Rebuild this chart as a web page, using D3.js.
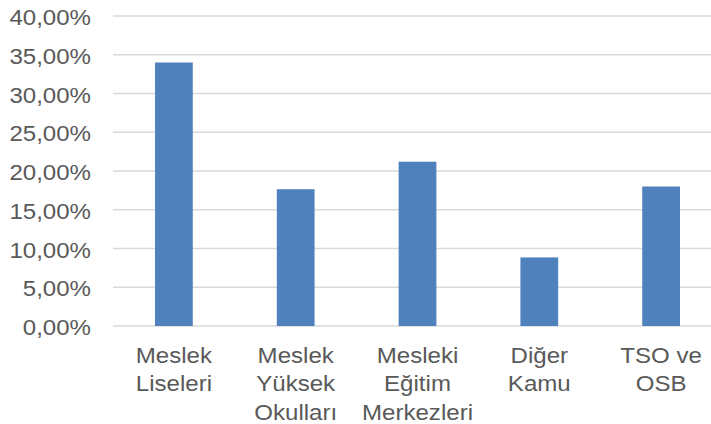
<!DOCTYPE html>
<html>
<head>
<meta charset="utf-8">
<script src="https://cdn.jsdelivr.net/npm/d3@7"></script>
<style>
	html, body { margin: 0; padding: 0; background: #fff; }
	svg { display: block; font-family: 'Liberation Sans', Arial, sans-serif; }
</style>
</head>
<body>
<div class="bar-chart"></div>
<script>
// chart data
const categories = [
	['Meslek', 'Liseleri'],
	['Meslek', 'Yüksek', 'Okulları'],
	['Mesleki', 'Eğitim', 'Merkezleri'],
	['Diğer', 'Kamu'],
	['TSO ve', 'OSB']
];
const values = [34.0, 17.65, 21.2, 8.85, 18.0];
const tickValues = [0, 5, 10, 15, 20, 25, 30, 35, 40];

const width = 711;
const height = 424;
const margin = { top: 16, left: 113, bottom: 98 };
const textColor = '#595959';
// the picture is a bit wider than tall, so glyphs are stretched sideways
const stretch = 1.12;

const svg = d3
	.select('.bar-chart')
	.append('svg')
	.attr('width', width)
	.attr('height', height);

const innerHeight = height - margin.top - margin.bottom;

const x = d3
	.scaleBand()
	.domain(categories.map((d, i) => i))
	.range([margin.left, margin.left + 609])
	.paddingInner(0.69)
	.paddingOuter(0.345);

const y = d3
	.scaleLinear()
	.domain([0, 40])
	.range([margin.top + innerHeight, margin.top]);

const fmt = v => v.toFixed(2).replace('.', ',') + '%';

// gridlines
svg.append('g')
	.selectAll('line')
	.data(tickValues)
	.enter()
	.append('line')
	.attr('x1', margin.left)
	.attr('x2', width)
	.attr('y1', d => y(d))
	.attr('y2', d => y(d))
	.attr('stroke', '#d9d9d9')
	.attr('stroke-width', 1.3);

// y axis labels
const yAxis = svg
	.append('g')
	.attr('transform', 'translate(91,0) scale(' + stretch + ',1)')
	.call(d3.axisLeft(y).tickValues(tickValues).tickFormat(fmt).tickSize(0).tickPadding(0));
yAxis.select('.domain').remove();
yAxis.selectAll('text')
	.attr('fill', textColor)
	.attr('font-size', 21.5)
	.attr('font-family', "'Liberation Sans', Arial, sans-serif")
	.attr('dy', '0.4em');

// bars
svg.append('g')
	.selectAll('rect')
	.data(values)
	.enter()
	.append('rect')
	.attr('x', (d, i) => x(i))
	.attr('y', d => y(d))
	.attr('width', x.bandwidth())
	.attr('height', d => y(0) - y(d))
	.attr('fill', '#4f81bd');

// category labels
const labels = svg
	.append('g')
	.selectAll('g')
	.data(categories)
	.enter()
	.append('g')
	.attr('transform', (d, i) =>
		'translate(' + (x(i) + x.bandwidth() / 2) + ',363) scale(' + stretch + ',1)'
	)
	.append('text')
	.attr('text-anchor', 'middle')
	.attr('fill', textColor)
	.attr('font-size', 21.5);
labels
	.selectAll('tspan')
	.data(d => d)
	.enter()
	.append('tspan')
	.attr('x', 0)
	.attr('dy', (d, i) => (i === 0 ? 0 : 28.5))
	.text(d => d);
</script>
</body>
</html>
